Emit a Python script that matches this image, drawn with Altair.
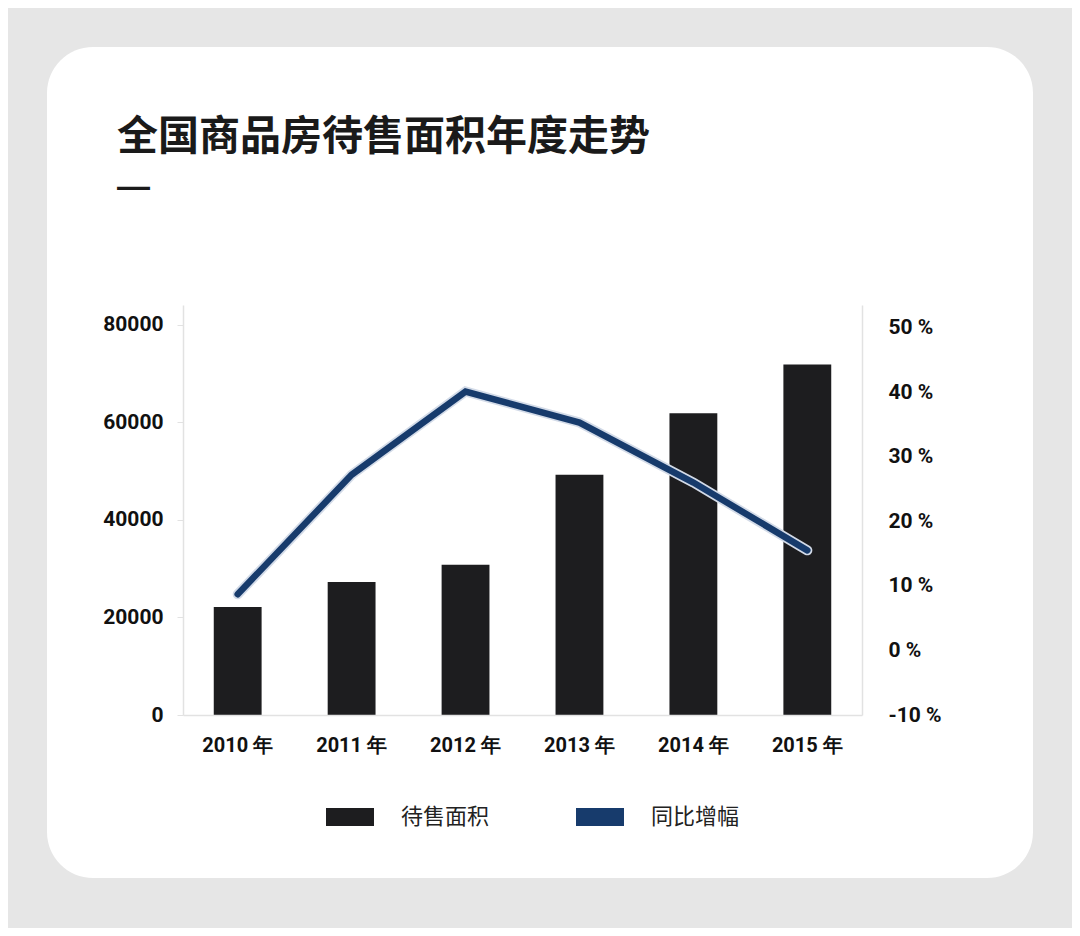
import altair as alt
import pandas as pd

# ---- data ----
years = ['2010', '2011', '2012', '2013', '2014', '2015']
area = [22150, 27300, 30800, 49300, 61900, 71900]          # 待售面积
growth = [8.7, 27.2, 40.1, 35.3, 26.0, 15.5]               # 同比增幅 (%)
area_ticks = [0, 20000, 40000, 60000, 80000]
growth_ticks = [-10, 0, 10, 20, 30, 40, 50]
series = ['待售面积', '同比增幅']
title_text = '全国商品房待售面积年度走势'

df = pd.DataFrame({'year': years, 'area': area, 'growth': growth, 'series': series[0]})

NUM_FONT = 'Roboto, Liberation Sans, sans-serif'
CJK = 'Noto Sans CJK SC'
BAR_C = '#1d1d1f'
LINE_C = '#173b6c'
HALO_C = '#d3dbe8'
AXIS_C = '#e2e2e2'

# layout (page pixels)
PLOT_L, PLOT_T, PLOT_W, PLOT_H = 183, 305, 679, 410
PAD_L, PAD_T = PLOT_L - 8, PLOT_T - 8
PAD_R = 1064 - PAD_L - PLOT_W
PAD_B = 920 - PAD_T - PLOT_H
CARD_T = 47

x_enc = alt.X('year:N', sort=years,
              scale=alt.Scale(paddingInner=0.58, paddingOuter=0.27),
              axis=alt.Axis(title=None, labelAngle=0, labelExpr="datum.value + ' 年'",
                            ticks=False, domainColor=AXIS_C, domainWidth=1.5,
                            labelPadding=20, labelFontSize=20, labelFont=NUM_FONT,
                            labelFontWeight='bold', labelColor='#111', zindex=1))

card = alt.Chart(pd.DataFrame({'k': [0]})).mark_rect(color='white', cornerRadius=46).encode(
    x=alt.value(47 - PLOT_L), x2=alt.value(1033 - PLOT_L),
    y=alt.value(CARD_T - PLOT_T), y2=alt.value(878 - PLOT_T))

base = alt.Chart(df)

bars = base.mark_bar().encode(
    x=x_enc,
    y=alt.Y('area:Q', scale=alt.Scale(domain=[0, 84100], nice=False),
            axis=alt.Axis(title=None, values=area_ticks, grid=False, tickColor=AXIS_C,
                          tickSize=6, domainColor=AXIS_C, domainWidth=1.5, labelPadding=14,
                          format='d',
                          labelFont=NUM_FONT, labelFontSize=21, labelFontWeight='bold',
                          labelColor='#111', zindex=1)),
    color=alt.Color('series:N',
                    scale=alt.Scale(domain=series, range=[BAR_C, LINE_C]),
                    legend=alt.Legend(title=None, orient='none',
                                      legendX=326 - PLOT_L, legendY=793 - PLOT_T,
                                      direction='horizontal',
                                      symbolType='M-1,-0.38H1V0.38H-1Z', symbolSize=2304,
                                      symbolStrokeWidth=0, symbolOpacity=1,
                                      labelFont=CJK, labelFontSize=22, labelColor='#222',
                                      labelOffset=27, columnPadding=86))
)

y_growth = alt.Y('growth:Q', scale=alt.Scale(domain=[-10, 53.5], nice=False),
                 axis=alt.Axis(title=None, orient='right', values=growth_ticks, grid=False,
                               ticks=False, labelExpr="datum.value + ' %'",
                               domainColor=AXIS_C, domainWidth=1.5, labelPadding=26,
                               labelFont=NUM_FONT, labelFontSize=21, labelFontWeight='bold',
                               labelColor='#111', zindex=1))

halo = base.mark_line(color=HALO_C, strokeWidth=10, strokeCap='round').encode(x=x_enc, y=y_growth)
line = base.mark_line(color=LINE_C, strokeWidth=6.5, strokeCap='round').encode(x=x_enc, y=y_growth)
lines = alt.layer(halo, line)

chart = alt.layer(card, bars, lines).resolve_scale(y='independent').properties(
    width=PLOT_W, height=PLOT_H,
    autosize=alt.AutoSizeParams(type='none'),
    padding={'left': PAD_L, 'top': PAD_T, 'right': PAD_R, 'bottom': PAD_B},
    background='#e6e6e6',
    title=alt.TitleParams(text=title_text, subtitle='—', anchor='start', frame='group',
                          dx=117 - PLOT_L, offset=-158, font=CJK, fontSize=41,
                          fontWeight='bold', color='#1a1a1a',
                          subtitleFont='Liberation Sans', subtitleFontSize=33,
                          subtitleFontWeight='bold', subtitleColor='#1a1a1a',
                          subtitlePadding=12)
).configure_view(strokeWidth=0)

chart.save('out.html', embed_options={'renderer': 'svg', 'actions': False})
